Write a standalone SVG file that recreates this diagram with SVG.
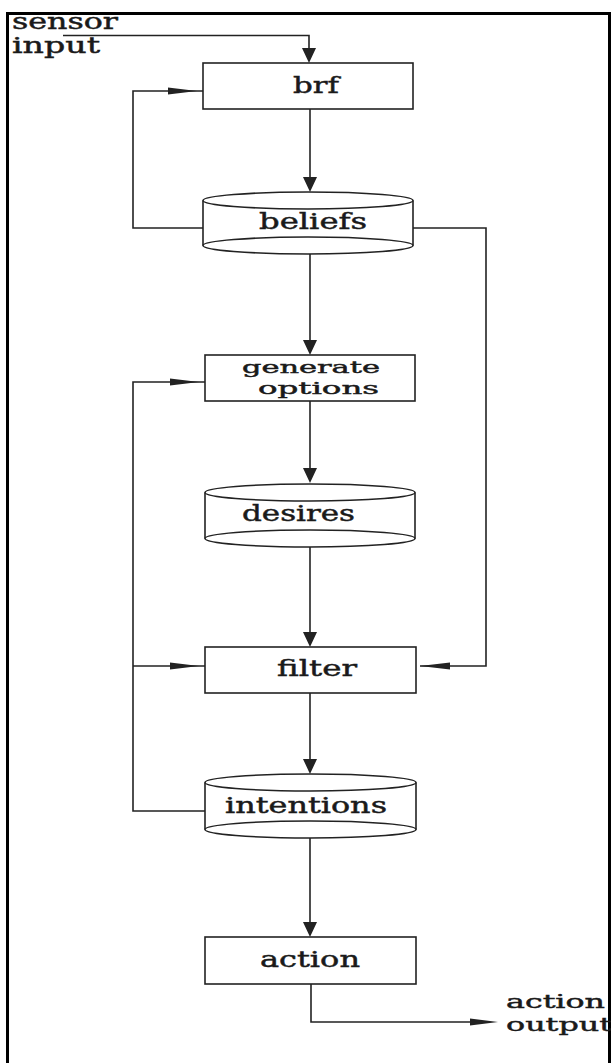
<svg xmlns="http://www.w3.org/2000/svg" width="611" height="1063" viewBox="0 0 611 1063">
<style>
.frame{fill:none;stroke:#000;stroke-width:3}
.box{fill:#fff;stroke:#222;stroke-width:1.6}
.cyl{fill:#fff;stroke:#222;stroke-width:1.6}
.line{fill:none;stroke:#222;stroke-width:1.6}
.head{fill:#222;stroke:none}
.t{font-family:"DejaVu Serif","Liberation Serif",serif;font-size:22px;fill:#1a1a1a;stroke:#1a1a1a;stroke-width:0.45}
.s{font-size:19px}
.g{font-size:17px}
</style>
<rect width="611" height="1063" fill="#fff"/>
<path class="frame" d="M7.5,1063 V13.5 H609.5 V1063"/>

<g id="labels">
<text class="t" x="12" y="29" textLength="106" lengthAdjust="spacingAndGlyphs">sensor</text>
<text class="t" x="12" y="53" textLength="88" lengthAdjust="spacingAndGlyphs">input</text>
<text class="t s" x="506" y="1008" textLength="99" lengthAdjust="spacingAndGlyphs">action</text>
<text class="t s" x="506" y="1031" textLength="106" lengthAdjust="spacingAndGlyphs">output</text>
</g>

<g id="connectors">
<path class="line" d="M63,35.5 H309 V52"/>
<polygon class="head" points="302,48 316,48 309,63"/>
<path class="line" d="M310,109 V180"/>
<polygon class="head" points="303,177 317,177 310,192"/>
<path class="line" d="M203,228 H133 V91 H203"/>
<polygon class="head" points="168,87.5 197,91 168,94.5"/>
<path class="line" d="M413,228 H486 V666 H420"/>
<polygon class="head" points="450,662.5 420,666 450,669.5"/>
<path class="line" d="M310,254 V343"/>
<polygon class="head" points="303,340 317,340 310,355"/>
<path class="line" d="M310,401 V470"/>
<polygon class="head" points="303,468 317,468 310,483"/>
<path class="line" d="M205,811 H133 V382 H205"/>
<polygon class="head" points="170,378.5 199,382 170,385.5"/>
<path class="line" d="M133,666 H205"/>
<polygon class="head" points="170,662.5 199,666 170,669.5"/>
<path class="line" d="M310,547 V636"/>
<polygon class="head" points="303,632 317,632 310,647"/>
<path class="line" d="M310,693 V762"/>
<polygon class="head" points="303,759 317,759 310,774"/>
<path class="line" d="M310,838 V925"/>
<polygon class="head" points="303,922 317,922 310,937"/>
<path class="line" d="M311,984 V1022 H480"/>
<polygon class="head" points="470,1018.5 498,1022 470,1025.5"/>
</g>

<g id="brf">
<rect class="box" x="203" y="63" width="210" height="46"/>
<text class="t" x="293" y="93" textLength="46" lengthAdjust="spacingAndGlyphs">brf</text>
</g>

<g id="beliefs">
<path class="cyl" d="M203,200.5 V245.5 A105,8.5 0 0 0 413,245.5 V200.5"/>
<ellipse class="cyl" cx="308" cy="200.5" rx="105" ry="8.5"/>
<path class="line" d="M203,245.5 A105,8.5 0 0 1 413,245.5"/>
<text class="t" x="259" y="229" textLength="108" lengthAdjust="spacingAndGlyphs">beliefs</text>
</g>

<g id="generate-options">
<rect class="box" x="205" y="355" width="210" height="46"/>
<text class="t g" x="242" y="373" textLength="138" lengthAdjust="spacingAndGlyphs">generate</text>
<text class="t g" x="258" y="394" textLength="121" lengthAdjust="spacingAndGlyphs">options</text>
</g>

<g id="desires">
<path class="cyl" d="M205,492.5 V538.5 A105,8.5 0 0 0 415,538.5 V492.5"/>
<ellipse class="cyl" cx="310" cy="492.5" rx="105" ry="8.5"/>
<path class="line" d="M205,538.5 A105,8.5 0 0 1 415,538.5"/>
<text class="t" x="242" y="521" textLength="113" lengthAdjust="spacingAndGlyphs">desires</text>
</g>

<g id="filter">
<rect class="box" x="205" y="647" width="211" height="46"/>
<text class="t" x="277" y="676" textLength="80" lengthAdjust="spacingAndGlyphs">filter</text>
</g>

<g id="intentions">
<path class="cyl" d="M205,782.5 V829.5 A105.5,8.5 0 0 0 416,829.5 V782.5"/>
<ellipse class="cyl" cx="310.5" cy="782.5" rx="105.5" ry="8.5"/>
<path class="line" d="M205,829.5 A105.5,8.5 0 0 1 416,829.5"/>
<text class="t" x="225" y="813" textLength="162" lengthAdjust="spacingAndGlyphs">intentions</text>
</g>

<g id="action">
<rect class="box" x="205" y="937" width="211" height="47"/>
<text class="t" x="260" y="967" textLength="100" lengthAdjust="spacingAndGlyphs">action</text>
</g>
</svg>
